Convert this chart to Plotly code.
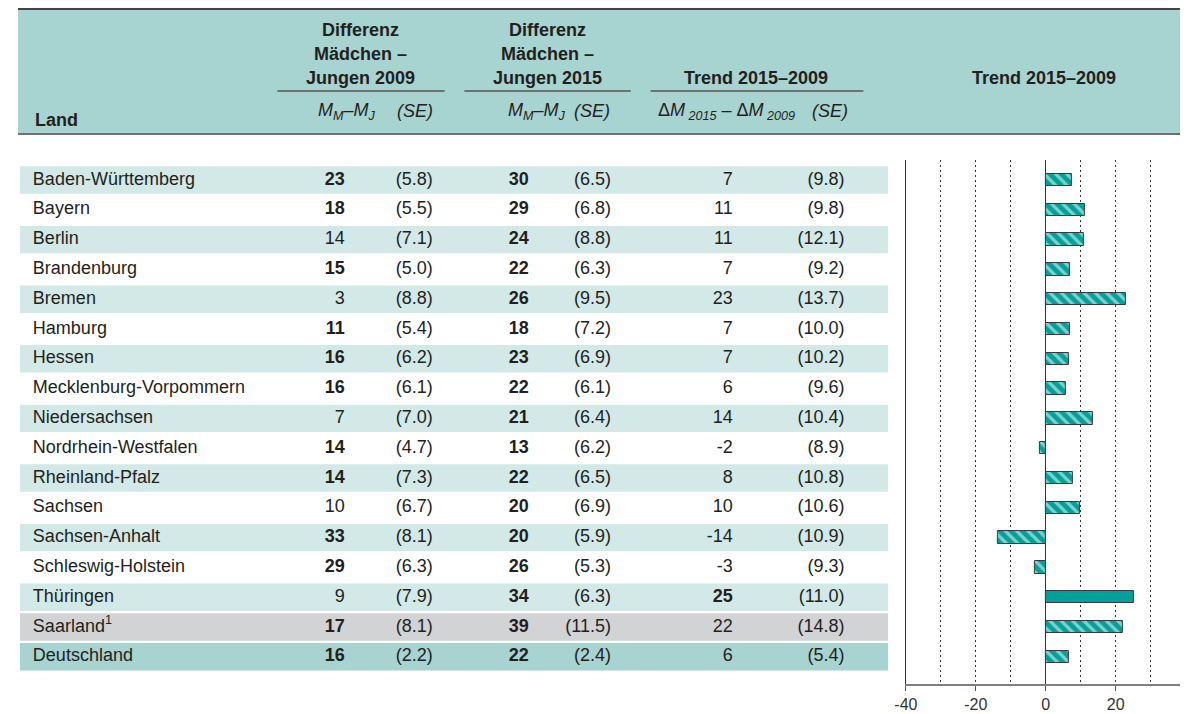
import plotly.graph_objects as go

# --- data -------------------------------------------------------------
laender = [
    "Baden-Württemberg", "Bayern", "Berlin", "Brandenburg", "Bremen",
    "Hamburg", "Hessen", "Mecklenburg-Vorpommern", "Niedersachsen",
    "Nordrhein-Westfalen", "Rheinland-Pfalz", "Sachsen", "Sachsen-Anhalt",
    "Schleswig-Holstein", "Thüringen", "Saarland<sup>1</sup>", "Deutschland",
]
diff_2009 = [23, 18, 14, 15, 3, 11, 16, 16, 7, 14, 14, 10, 33, 29, 9, 17, 16]
se_2009 = [5.8, 5.5, 7.1, 5.0, 8.8, 5.4, 6.2, 6.1, 7.0, 4.7, 7.3, 6.7, 8.1, 6.3, 7.9, 8.1, 2.2]
sig_2009 = [1, 1, 0, 1, 0, 1, 1, 1, 0, 1, 1, 0, 1, 1, 0, 1, 1]
diff_2015 = [30, 29, 24, 22, 26, 18, 23, 22, 21, 13, 22, 20, 20, 26, 34, 39, 22]
se_2015 = [6.5, 6.8, 8.8, 6.3, 9.5, 7.2, 6.9, 6.1, 6.4, 6.2, 6.5, 6.9, 5.9, 5.3, 6.3, 11.5, 2.4]
sig_2015 = [1] * 17
trend = [7, 11, 11, 7, 23, 7, 7, 6, 14, -2, 8, 10, -14, -3, 25, 22, 6]
se_trend = [9.8, 9.8, 12.1, 9.2, 13.7, 10.0, 10.2, 9.6, 10.4, 8.9, 10.8, 10.6, 10.9, 9.3, 11.0, 14.8, 5.4]
sig_trend = [0, 0, 0, 0, 0, 0, 0, 0, 0, 0, 0, 0, 0, 0, 1, 0, 0]
# unrounded bar lengths as drawn in the chart
trend_bar = [7.4, 11.3, 10.9, 6.8, 22.8, 6.9, 6.7, 5.8, 13.6, -1.7, 7.9, 9.7, -13.6, -3.2, 25.2, 22.2, 6.5]
row_style = ["hell", "weiss"] * 7 + ["hell", "grau", "dunkel"]

tick_vals = [-40, -20, 0, 20, 40]
tick_text = ["-40", "-20", "0", "20", "40"]

# --- layout helpers ---------------------------------------------------
# the page body has an 8px margin: the figure starts at page (8, 8),
# all coordinates below are page pixels
OFF = 8
W, H = 1188 - OFF, 714 - OFF
PLOT_TOP, PLOT_BOTTOM = 160, 684
ROW0, ROW_STEP = 180, 29.8
FONT = "Liberation Sans, Arial, sans-serif"
FS = 18
TXT = "#231f20"
TEAL = "#00a19a"
band_colors = {"hell": "#d2e9e7", "weiss": "rgba(0,0,0,0)", "grau": "#d1d3d4", "dunkel": "#a7d3d0"}

n = len(laender)
rows = list(range(n))
y_top = -(ROW0 - PLOT_TOP) / ROW_STEP
y_bottom = (n - 1) + (PLOT_BOTTOM - (ROW0 + (n - 1) * ROW_STEP)) / ROW_STEP


def px(x):
    return (x - OFF) / W


def py(y):
    return (PLOT_BOTTOM - y) / (PLOT_BOTTOM - PLOT_TOP)


def text_col(x, labels, pos, bold=None):
    if bold is not None:
        labels = [f"<b>{t}</b>" if b else t for t, b in zip(labels, bold)]
    return go.Scatter(
        x=[x] * n, y=rows, xaxis="x2", yaxis="y",
        mode="text", text=labels, textposition=pos,
        textfont=dict(size=FS, color=TXT, family=FONT),
        hoverinfo="skip", showlegend=False, cliponaxis=False,
    )


fig = go.Figure()

# table columns (x in page pixels on a hidden axis)
fig.add_trace(text_col(21, laender, "middle right"))
fig.add_trace(text_col(336, diff_2009, "middle left", sig_2009))
fig.add_trace(text_col(425, [f"({v:.1f})" for v in se_2009], "middle left"))
fig.add_trace(text_col(522, diff_2015, "middle left", sig_2015))
fig.add_trace(text_col(605, [f"({v:.1f})" for v in se_2015], "middle left"))
fig.add_trace(text_col(728, trend, "middle left", sig_trend))
fig.add_trace(text_col(841, [f"({v:.1f})" for v in se_trend], "middle left"))

# trend bars
fig.add_trace(go.Bar(
    x=trend_bar, y=rows, orientation="h", width=0.42,
    xaxis="x", yaxis="y",
    marker=dict(
        color=TEAL,
        line=dict(color="#3a3a3a", width=1),
        pattern=dict(
            shape=["" if s else "\\" for s in sig_trend],
            fgcolor="white", size=8, solidity=0.4,
        ),
    ),
    hovertemplate="%{x:.1f}<extra></extra>",
    showlegend=False,
))

# row bands
shapes = []
for i, style in enumerate(row_style):
    if style == "weiss":
        continue
    shapes.append(dict(
        type="rect", xref="x2", yref="y", layer="below",
        x0=6, x1=885, y0=i - 0.46, y1=i + 0.46,
        fillcolor=band_colors[style], line=dict(width=0),
    ))

# header band and rules
shapes.append(dict(type="rect", xref="paper", yref="paper", layer="below",
                   x0=px(6), x1=1, y0=py(134), y1=py(9),
                   fillcolor="#a7d3d0", line=dict(width=0)))
shapes.append(dict(type="line", xref="paper", yref="paper",
                   x0=px(6), x1=1, y0=py(9), y1=py(9),
                   line=dict(color="#444444", width=2)))
shapes.append(dict(type="line", xref="paper", yref="paper",
                   x0=px(6), x1=1, y0=py(134), y1=py(134),
                   line=dict(color="#707070", width=2)))
for x0, x1 in [(268, 437), (457, 625), (645, 860)]:
    shapes.append(dict(type="line", xref="paper", yref="paper",
                       x0=px(x0), x1=px(x1), y0=py(91), y1=py(91),
                       line=dict(color="#555555", width=1.5)))

# header texts (page pixels)
header = [
    ("<b>Differenz</b>", 352, 30), ("<b>Mädchen –</b>", 352, 54), ("<b>Jungen 2009</b>", 352, 78),
    ("<b>Differenz</b>", 541, 30), ("<b>Mädchen –</b>", 541, 54), ("<b>Jungen 2015</b>", 541, 78),
    ("<b>Trend 2015–2009</b>", 752, 78),
    ("<b>Trend 2015–2009</b>", 1043, 78),
    ("<i>M<sub>M</sub>–M<sub>J</sub></i>", 338, 111), ("<i>(SE)</i>", 407, 111),
    ("<i>M<sub>M</sub>–M<sub>J</sub></i>", 530, 111), ("<i>(SE)</i>", 586, 111),
    ("Δ<i>M<sub> 2015</sub> – </i>Δ<i>M<sub> 2009</sub></i>", 722, 111), ("<i>(SE)</i>", 826, 111),
]
annotations = [
    dict(text=t, x=px(x), y=py(y), xref="paper", yref="paper",
         xanchor="center", yanchor="middle", showarrow=False,
         font=dict(size=FS, color=TXT, family=FONT))
    for t, x, y in header
]
annotations.append(dict(text="<b>Land</b>", x=px(21), y=py(120), xref="paper", yref="paper",
                        xanchor="left", yanchor="middle", showarrow=False,
                        font=dict(size=FS, color=TXT, family=FONT)))

fig.update_layout(
    width=W, height=H,
    margin=dict(l=0, r=0, t=PLOT_TOP - OFF, b=H + OFF - PLOT_BOTTOM),
    paper_bgcolor="white",
    plot_bgcolor="rgba(0,0,0,0)",
    showlegend=False,
    shapes=shapes,
    annotations=annotations,
    bargap=0,
    xaxis=dict(
        domain=[px(903), px(1185.6)], range=[-40, 40], anchor="y",
        tickmode="array", tickvals=tick_vals, ticktext=tick_text,
        showgrid=True, gridcolor="#333333", gridwidth=1, griddash="2px,3px",
        minor=dict(dtick=10, showgrid=True, gridcolor="#333333", gridwidth=1, griddash="2px,3px"),
        zeroline=True, zerolinecolor="#333333", zerolinewidth=1.2,
        showline=True, linecolor="#808080", linewidth=2,
        ticks="outside", ticklen=5, tickcolor="#555555",
        tickfont=dict(size=16, color="#333333", family=FONT),
        fixedrange=True,
    ),
    xaxis2=dict(domain=[0, 1], range=[OFF, W + OFF], anchor="y", visible=False, fixedrange=True),
    yaxis=dict(
        domain=[0, 1], range=[y_bottom, y_top], anchor="x",
        showline=True, mirror=True, linecolor="#333333", linewidth=1.2,
        showticklabels=False, showgrid=False, zeroline=False, ticks="",
        fixedrange=True,
    ),
)

fig.write_html("out.html", config={"displayModeBar": False})
